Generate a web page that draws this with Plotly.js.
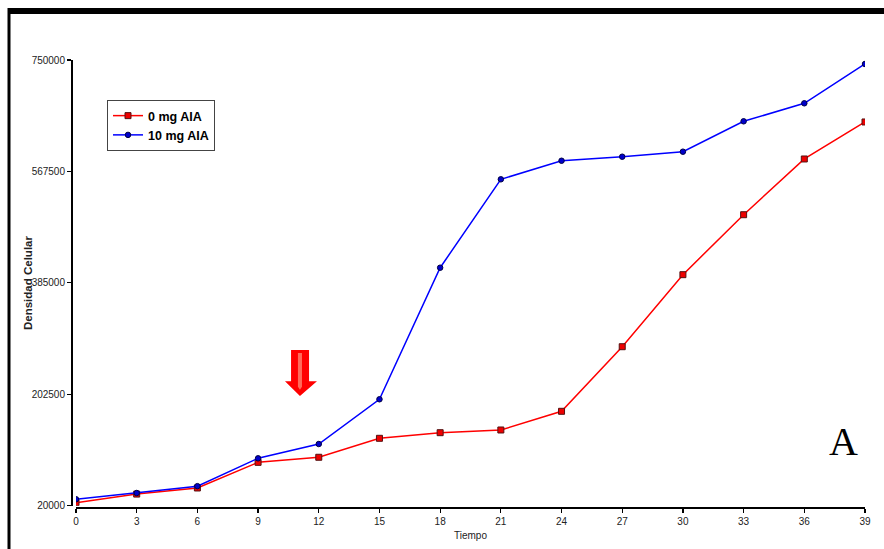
<!DOCTYPE html>
<html>
<head>
<meta charset="utf-8">
<script src="https://cdn.plot.ly/plotly-3.0.1.min.js"></script>
<style>html,body{margin:0;padding:0;background:#fff;}#chart{width:884px;height:549px;}</style>
</head>
<body>
<div id="chart"></div>
<script>
// Data
var tiempo = [0, 3, 6, 9, 12, 15, 18, 21, 24, 27, 30, 33, 36, 39];
var aia0 = [25000, 39000, 49000, 91000, 99300, 130400, 139600, 144000, 174600, 280400, 398400, 496600, 587900, 648500];
var aia10 = [30500, 40800, 52000, 97600, 121000, 194300, 409800, 554600, 585000, 591600, 599800, 649600, 679100, 743500];
var yTicks = [20000, 202500, 385000, 567500, 750000];
var xTicks = [0, 3, 6, 9, 12, 15, 18, 21, 24, 27, 30, 33, 36, 39];
var seriesNames = ['0 mg AIA', '10 mg AIA'];

var tickFont = {family: 'Liberation Sans Narrow, Arial Narrow, Liberation Sans, Arial', size: 10, color: '#222'};

var traces = [
  {x: tiempo, y: aia0, name: seriesNames[0], type: 'scatter', mode: 'lines+markers',
   line: {color: '#ff0000', width: 1.5},
   marker: {symbol: 'square', size: 6, color: '#ee0000', line: {color: '#551111', width: 1}}},
  {x: tiempo, y: aia10, name: seriesNames[1], type: 'scatter', mode: 'lines+markers',
   line: {color: '#0000ff', width: 1.5},
   marker: {symbol: 'circle', size: 5.5, color: '#0000cc', line: {color: '#000044', width: 1}}}
];

var L = 71, R = 19, T = 60, B = 42, W = 884 - L - R, H = 549 - T - B;
function px(p) { return (p - L) / W; }
function py(p) { return 1 - (p - T) / H; }

var layout = {
  width: 884, height: 549,
  margin: {l: L, r: R, t: T, b: B, pad: 0},
  paper_bgcolor: '#fff', plot_bgcolor: '#fff',
  showlegend: true,
  legend: {x: px(107), y: py(100), xanchor: 'left', yanchor: 'top',
           bgcolor: '#fff', bordercolor: '#444', borderwidth: 1,
           font: {family: 'Liberation Sans, Arial', size: 12.5, color: '#000', weight: 'bold'},
           itemwidth: 30, tracegroupgap: 2},
  xaxis: {range: [0, 39], domain: [5 / W, 1], tickvals: xTicks, ticktext: xTicks.map(String),
          showgrid: false, zeroline: false, showline: true, linecolor: '#000', linewidth: 1.5,
          ticks: 'outside', ticklen: 4, tickcolor: '#000', tickwidth: 1.2,
          anchor: 'free', position: 0, tickfont: tickFont,
          title: {text: 'Tiempo', font: {family: 'Liberation Sans Narrow, Arial Narrow, Liberation Sans', size: 10, color: '#222'}, standoff: 6}},
  yaxis: {range: [20000, 750000], domain: [1.3 / H, 1], tickvals: yTicks, ticktext: yTicks.map(String),
          showgrid: false, zeroline: false, showline: true, linecolor: '#000', linewidth: 1.5,
          ticks: 'outside', ticklen: 4, tickcolor: '#000', tickwidth: 1.2,
          anchor: 'free', position: 0, tickfont: tickFont},
  shapes: [
    // frame
    {type: 'rect', xref: 'paper', yref: 'paper', x0: px(8), x1: px(884), y0: py(14), y1: py(8),
     fillcolor: '#000', line: {width: 0}},
    {type: 'rect', xref: 'paper', yref: 'paper', x0: px(7.5), x1: px(10.5), y0: py(549), y1: py(8),
     fillcolor: '#000', line: {width: 0}},
    // red arrow
    {type: 'path', xref: 'x', yref: 'y',
     path: 'M 10.63 275000 L 11.52 275000 L 11.52 224000 L 11.91 224000 L 11.07 199700 L 10.33 224000 L 10.63 224000 Z',
     fillcolor: '#ff0000', line: {width: 0}},
    {type: 'path', xref: 'x', yref: 'y',
     path: 'M 10.97 270000 L 11.17 270000 L 11.17 215000 L 11.07 210000 L 10.97 215000 Z',
     fillcolor: '#ff6a5a', line: {width: 0}}
  ],
  annotations: [
    {text: 'Densidad Celular', xref: 'paper', yref: 'paper', x: px(28), y: py(283),
     xanchor: 'center', yanchor: 'middle', textangle: -90, showarrow: false,
     font: {family: 'Liberation Sans, Arial', size: 11.5, color: '#222', weight: 'bold'}},
    {text: 'A', xref: 'x', yref: 'y', x: 37.95, y: 125000, showarrow: false,
     font: {family: 'Liberation Serif, DejaVu Serif, Times New Roman', size: 40, color: '#000'}}
  ]
};

Plotly.newPlot('chart', traces, layout, {displayModeBar: false, staticPlot: true});
</script>
</body>
</html>
